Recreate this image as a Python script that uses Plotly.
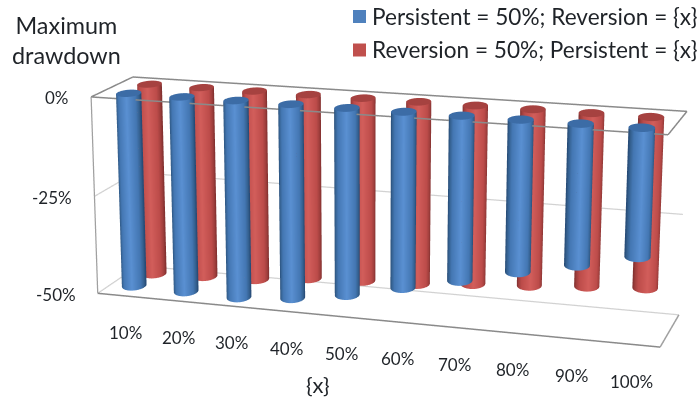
import numpy as np
import plotly.graph_objects as go

# Chart content
CATEGORIES = ["10%", "20%", "30%", "40%", "50%", "60%", "70%", "80%", "90%", "100%"]
PERSISTENT_FIXED = [-49.25, -49.4, -49.6, -48.45, -46.3, -43.2, -40.1, -36.7, -33.8, -30.5]
REVERSION_FIXED = [-49.4, -48.8, -48.3, -46.75, -46.1, -45.6, -44.3, -43.4, -42.3, -41.4]
VALUE_TICKS = [0, -25, -50]
VALUE_LABELS = ["0%", "-25%", "-50%"]
SERIES_NAMES = ["Persistent = 50%; Reversion = {x}", "Reversion = 50%; Persistent = {x}"]

WIDTH, HEIGHT = 700, 398
FONT = "Lato"
INK = "#1f2328"

# Frame corners as (category, depth, level) -> page position; solved below for the view transform.
FRAME_CORNERS = {
    (0, 0, 1): (91, 97), (0, 1, 1): (133, 77), (1, 0, 1): (668, 134), (1, 1, 1): (687, 112),
    (0, 0, 0): (98, 294), (1, 0, 0): (660, 347), (1, 1, 0): (679, 315), (0, 1, 0): (138, 265),
}
EYE = np.array([0.0, -2.0, 0.0])
TAN = np.tan(np.pi / 8)


def solve_view():
    rows = []
    for key, (px, py) in FRAME_CORNERS.items():
        n = (px / WIDTH * 2 - 1) * TAN * WIDTH / HEIGHT
        m = (1 - py / HEIGHT * 2) * TAN
        q = np.array([*key, 1.0])
        rows.append(np.concatenate([q, np.zeros(4), -n * q]))
        rows.append(np.concatenate([np.zeros(4), q, -m * q]))
    v = np.linalg.svd(np.array(rows))[2][-1]
    hx, hz, hd = v[:4], v[4:8], v[8:12]
    c = 2 / (hd @ np.array([0.5, 0.5, 0.5, 1.0]))
    hy = hd * c
    hy[3] -= 2
    return np.array([hx * c, hy, hz * c])


VIEW = solve_view()


def world(x, y, z):
    x, y, z = np.asarray(x, float), np.asarray(y, float), np.asarray(z, float)
    one = np.ones_like(x + y + z)
    return [VIEW[i, 0] * x + VIEW[i, 1] * y + VIEW[i, 2] * z + VIEW[i, 3] * one for i in range(3)]


def level(pct):
    return 1 + np.asarray(pct, float) / 50


def along_ray(pt, tau):
    p = np.array(pt, float)
    return EYE + (p - EYE) * (1 + tau)


# Cross-section of a cylinder, expressed so its rim reads as a level ellipse
AXIS_A = (0.0198, 0.047)
AXIS_B = (-0.0087, 0.165)
THETA = np.linspace(0, 2 * np.pi, 73)
BLUE_SCALE = [[0, "#264a75"], [0.05, "#34608f"], [0.16, "#4477b3"], [0.5, "#5a90d2"], [0.84, "#4477b3"], [0.95, "#34608f"], [1, "#264a75"]]
RED_SCALE = [[0, "#823130"], [0.05, "#9f3e3c"], [0.16, "#bd4c4a"], [0.5, "#d25e5b"], [0.84, "#bd4c4a"], [0.95, "#9f3e3c"], [1, "#823130"]]
BLUE_CAP = "#3c6ca6"
RED_CAP = "#a64240"
FLAT = dict(ambient=1, diffuse=0, specular=0, fresnel=0, roughness=1)


def add_bar(fig, cx, cy, value, scale, cap):
    xx = cx + AXIS_A[0] * np.cos(THETA) + AXIS_B[0] * np.sin(THETA)
    yy = cy + AXIS_A[1] * np.cos(THETA) + AXIS_B[1] * np.sin(THETA)
    X = np.tile(xx, (2, 1))
    Y = np.tile(yy, (2, 1))
    Z = np.outer([1.0, level(value)], np.ones_like(THETA))
    wx, wy, wz = world(X, Y, Z)
    shade = np.tile((np.cos(THETA) + 1) / 2, (2, 1))
    fig.add_trace(go.Surface(x=wx, y=wy, z=wz, surfacecolor=shade, cmin=0, cmax=1, colorscale=scale,
                             showscale=False, hoverinfo="skip", lighting=FLAT))
    R = np.array([0.0, 1.0])
    Xc = cx + np.outer(R, xx - cx)
    Yc = cy + np.outer(R, yy - cy)
    wx, wy, wz = world(Xc, Yc, np.ones_like(Xc))
    fig.add_trace(go.Surface(x=wx, y=wy, z=wz, surfacecolor=np.zeros_like(Xc), cmin=0, cmax=1,
                             colorscale=[[0, cap], [1, cap]], showscale=False, hoverinfo="skip", lighting=FLAT))


def add_edge(fig, a, b, color, width, tau=0.0):
    pa = along_ray(world(*a), tau)
    pb = along_ray(world(*b), tau)
    fig.add_trace(go.Scatter3d(x=[pa[0], pb[0]], y=[pa[1], pb[1]], z=[pa[2], pb[2]], mode="lines",
                               line=dict(color=color, width=width), hoverinfo="skip", showlegend=False))


fig = go.Figure()

# Walls and gridlines
GRID = "#d2d2d2"
add_edge(fig, (0, 1, 0), (1, 1, 0), GRID, 2.5)
add_edge(fig, (0, 0, 0), (0, 1, 0), GRID, 2.5)
add_edge(fig, (0, 1, 0.5), (1, 1, 0.5), GRID, 2.5)
add_edge(fig, (0, 0, 0.5), (0, 1, 0.5), GRID, 2.5)

# Outer frame
DARK = "#8a8a8a"
add_edge(fig, (0, 0, 0), (1, 0, 0), DARK, 3)
add_edge(fig, (1, 0, 0), (1, 1, 0), "#a0a0a0", 3)
add_edge(fig, (0, 0, 0), (0, 0, 1), "#a0a0a0", 2.5)
add_edge(fig, (0, 0, 1), (0, 1, 1), DARK, 3)
add_edge(fig, (0, 1, 1), (1, 1, 1), DARK, 3)
add_edge(fig, (1, 1, 1), (1, 0, 1), DARK, 3)

# The zero line sits between the two rows of bars
d0 = world(0.5, 0.0, 1)[1] + 2
tau_zero = (world(0.5, 0.2, 1)[1] - world(0.5, 0.0, 1)[1]) / d0
add_edge(fig, (0, 0, 1), (1, 0, 1), DARK, 3, tau=tau_zero)

# Bars hang from the zero level
for i in range(len(CATEGORIES)):
    f = i / (len(CATEGORIES) - 1)
    cx = 0.05 + 0.901 * f
    add_bar(fig, cx + 0.004 * (1 - f), 0.72 - 0.05 * f, REVERSION_FIXED[i], RED_SCALE, RED_CAP)
    add_bar(fig, cx, 0.26 - 0.05 * f, PERSISTENT_FIXED[i], BLUE_SCALE, BLUE_CAP)

# Tick labels are pinned to the frame
scene_notes = []
for i, label in enumerate(CATEGORIES):
    p = world((i + 0.5) / len(CATEGORIES), 0, 0)
    scene_notes.append(dict(x=float(p[0]), y=float(p[1]), z=float(p[2]), text=label, showarrow=False,
                            xshift=2, yshift=-37, font=dict(family=FONT, size=17, color=INK)))
for tick, label in zip(VALUE_TICKS, VALUE_LABELS):
    p = world(0, 0, level(tick))
    scene_notes.append(dict(x=float(p[0]), y=float(p[1]), z=float(p[2]), text=label, showarrow=False,
                            xanchor="right", xshift=-20, yshift=-1, font=dict(family=FONT, size=17, color=INK)))

# Legend keys and titles
LEGEND_COLORS = ["#4f81bd", "#c0504d"]
LEGEND_Y = [16.5, 50]
shapes = []
notes = []
for name, color, ly in zip(SERIES_NAMES, LEGEND_COLORS, LEGEND_Y):
    shapes.append(dict(type="rect", xref="paper", yref="paper", x0=353 / WIDTH, x1=366 / WIDTH,
                       y0=1 - (ly + 6.5) / HEIGHT, y1=1 - (ly - 6.5) / HEIGHT, fillcolor=color, line_width=0))
    notes.append(dict(xref="paper", yref="paper", x=369.5 / WIDTH, y=1 - ly / HEIGHT, xanchor="left", yanchor="middle",
                      text=name, showarrow=False, font=dict(family=FONT, size=22.6, color=INK)))
notes.append(dict(xref="paper", yref="paper", x=66 / WIDTH, y=1 - 40 / HEIGHT, xanchor="center", yanchor="middle",
                  text="Maximum<br>drawdown", showarrow=False, font=dict(family=FONT, size=23.4, color=INK)))
notes.append(dict(xref="paper", yref="paper", x=318 / WIDTH, y=1 - 384 / HEIGHT, xanchor="center", yanchor="middle",
                  text="{x}", showarrow=False, font=dict(family=FONT, size=22, color=INK)))

hidden = dict(visible=False, range=[-2, 2], autorange=False)
fig.update_layout(
    width=WIDTH, height=HEIGHT, margin=dict(l=0, r=0, t=0, b=0), showlegend=False,
    paper_bgcolor="white", shapes=shapes, annotations=notes,
    scene=dict(
        domain=dict(x=[0, 1], y=[0, 1]), xaxis=hidden, yaxis=hidden, zaxis=hidden,
        aspectmode="manual", aspectratio=dict(x=4, y=4, z=4), annotations=scene_notes,
        camera=dict(eye=dict(x=0, y=-2, z=0), center=dict(x=0, y=0, z=0), up=dict(x=0, y=0, z=1),
                    projection=dict(type="perspective")),
    ),
)
fig.write_html("out.html", config=dict(displayModeBar=False))
